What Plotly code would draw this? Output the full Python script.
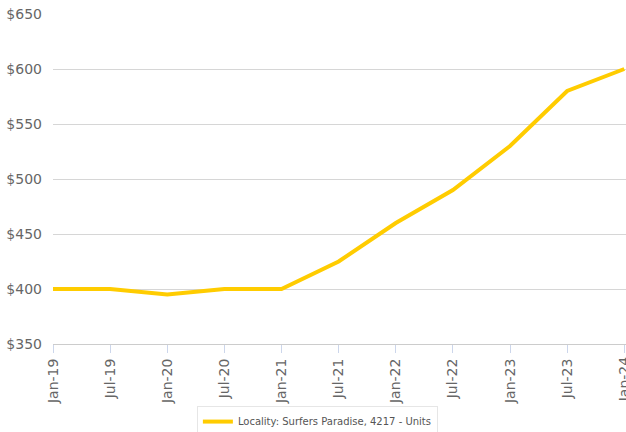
import plotly.graph_objects as go

# Data
periods = ["Jan-19", "Jul-19", "Jan-20", "Jul-20", "Jan-21", "Jul-21",
           "Jan-22", "Jul-22", "Jan-23", "Jul-23", "Jan-24"]
rent = [400, 400, 395, 400, 400, 425, 460, 490, 530, 580, 600]
series_name = "Locality: Surfers Paradise, 4217 - Units"
y_ticks = [350, 400, 450, 500, 550, 600, 650]

fig = go.Figure()

fig.add_trace(go.Scatter(
    x=list(range(len(periods))), y=rent,
    mode="lines", name=series_name,
    line=dict(color="#FFCC00", width=4),
    cliponaxis=False))

fig.update_layout(
    width=626, height=432,
    margin=dict(l=53, r=0, t=14, b=88, autoexpand=False),
    paper_bgcolor="white", plot_bgcolor="white",
    font=dict(family="DejaVu Sans", color="#666666"),
    showlegend=True,
    legend=dict(
        xref="container", yref="container",
        x=0.507, y=0.06, xanchor="center", yanchor="top",
        orientation="h",
        bordercolor="#e6e6e6", borderwidth=1,
        font=dict(size=10, color="#555555"),
        itemwidth=30,
    ),
    xaxis=dict(
        range=[0, len(periods) - 1 + 0.03],
        automargin=False,
        tickmode="array",
        tickvals=list(range(len(periods))),
        ticktext=periods,
        tickangle=-90,
        tickfont=dict(size=14, color="#666666"),
        showgrid=False, zeroline=False,
        showline=True, linecolor="#cccccc", linewidth=1,
        ticks="outside", ticklen=8, tickcolor="#ccd6eb",
    ),
    yaxis=dict(
        range=[350, 650],
        automargin=False,
        tickvals=y_ticks,
        ticktext=["$%d" % v for v in y_ticks],
        tickfont=dict(size=14, color="#666666"),
        showgrid=True, gridcolor="#d6d6d6", gridwidth=1,
        zeroline=False, showline=False,
        ticks="", ticklabelstandoff=10,
    ),
)

# last tick label sits on the page edge, plotly drops it, so put it back by hand
fig.add_annotation(
    x=len(periods) - 1, xref="x", y=0, yref="paper",
    text=periods[-1], textangle=-90, showarrow=False,
    xanchor="center", yanchor="top", yshift=-10,
    font=dict(size=14, color="#666666"))

# page has default body margin; drop it so the chart fills the window
fig.write_html("out.html", config={"displayModeBar": False},
               post_script="document.body.style.margin='0';document.body.style.overflow='hidden';")
